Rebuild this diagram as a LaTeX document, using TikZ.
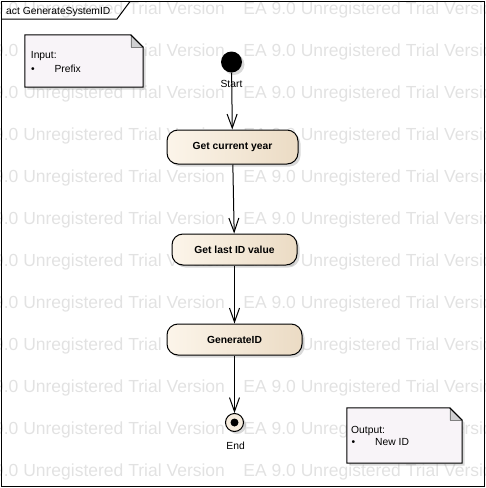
\documentclass[tikz,border=0pt]{standalone}
\usepackage{fontspec}
\setmainfont{Liberation Sans}
\usetikzlibrary{arrows.meta,shadows}

\definecolor{wmgray}{RGB}{226,226,226}
\definecolor{actleft}{RGB}{252,245,234}
\definecolor{actright}{RGB}{235,219,196}
\definecolor{notefill}{RGB}{248,244,248}
\definecolor{foldfill}{RGB}{208,208,210}
\definecolor{endfill}{RGB}{246,236,222}

\begin{document}
\begin{tikzpicture}[x=1pt, y=-1pt,
    every node/.style={inner sep=0pt},
    wmark/.style={anchor=base west, text=wmgray, font=\fontsize{17.5}{20}\selectfont},
    softshadow/.style={drop shadow={shadow xshift=2.5pt, shadow yshift=-2.5pt, opacity=0.3}},
    action/.style={draw, line width=1pt, rounded corners=11pt, left color=actleft,
      right color=actright, font=\fontsize{10.3}{12}\selectfont\bfseries, softshadow},
    notetext/.style={anchor=base west, font=\fontsize{10.3}{12}\selectfont},
    lbl/.style={anchor=base, font=\fontsize{10.3}{12}\selectfont},
    flow/.style={-{Straight Barb[length=14pt,width=10pt]}, line width=1pt}]

  \useasboundingbox (0,0) rectangle (486,488);

  % Watermark
  \foreach \row in {0,...,11}
    \foreach \col in {0,1}
      \node[wmark] (wm\row\col) at (-34.3+277.5*\col, 14.3+42*\row) {EA 9.0 Unregistered Trial Version};

  % Frame
  \draw[line width=1pt] (1.5,1.5) rectangle (484.5,486.5);
  \node[notetext] (title) at (6,14) {act GenerateSystemID};
  \draw[line width=1pt] (1.5,19) -- (117,19) -- (130,1.5);

  % Input note
  \node[minimum width=118pt, minimum height=52pt] (input) at (84,61) {};
  \path[fill=notefill, draw, line width=1pt, softshadow]
    (input.north west) -- ([xshift=-12.5pt]input.north east)
    -- ([yshift=-12.5pt]input.north east) -- (input.south east)
    -- (input.south west) -- cycle;
  \draw[fill=foldfill, draw=gray] ([xshift=-12.5pt]input.north east)
    -- ([xshift=-12.5pt,yshift=-12.5pt]input.north east)
    -- ([yshift=-12.5pt]input.north east);
  \draw[line width=1pt] ([xshift=-12.5pt]input.north east) -- ([yshift=-12.5pt]input.north east);
  \node[notetext] (inhead) at (30.7,58.3) {Input:};
  \node[notetext] (inbullet) at (31,72.3) {\textbullet};
  \node[notetext] (initem) at (54.3,72.3) {Prefix};

  % Output note
  \node[minimum width=115pt, minimum height=55pt] (output) at (404.5,435.5) {};
  \path[fill=notefill, draw, line width=1pt, softshadow]
    (output.north west) -- ([xshift=-12.5pt]output.north east)
    -- ([yshift=-12.5pt]output.north east) -- (output.south east)
    -- (output.south west) -- cycle;
  \draw[fill=foldfill, draw=gray] ([xshift=-12.5pt]output.north east)
    -- ([xshift=-12.5pt,yshift=-12.5pt]output.north east)
    -- ([yshift=-12.5pt]output.north east);
  \draw[line width=1pt] ([xshift=-12.5pt]output.north east) -- ([yshift=-12.5pt]output.north east);
  \node[notetext] (outhead) at (351,433.4) {Output:};
  \node[notetext] (outbullet) at (351.5,445.5) {\textbullet};
  \node[notetext] (outitem) at (375,445.5) {New ID};

  % Start and end
  \node[circle, fill=black, minimum size=21pt, softshadow] (start) at (231.5,62) {};
  \node[lbl] (startlbl) at (231.5,87.5) {Start};
  \node[circle, draw, line width=1pt, fill=endfill, minimum size=18pt, softshadow] (end) at (234.5,422.5) {};
  \node[circle, fill=black, minimum size=8pt] (enddot) at (end) {};
  \node[lbl] (endlbl) at (235.6,449.3) {End};

  % Actions
  \node[action, minimum width=131pt, minimum height=34pt] (year) at (232.5,147) {Get current year};
  \node[action, minimum width=125pt, minimum height=31pt] (lastid) at (234.5,249.5) {Get last ID value};
  \node[action, minimum width=135pt, minimum height=31pt] (genid) at (234.5,339.5) {GenerateID};

  \draw[flow] (start) -- (year);
  \draw[flow] (year) -- (lastid);
  \draw[flow] (lastid) -- (genid);
  \draw[flow] (genid) -- (end);
\end{tikzpicture}
\end{document}
